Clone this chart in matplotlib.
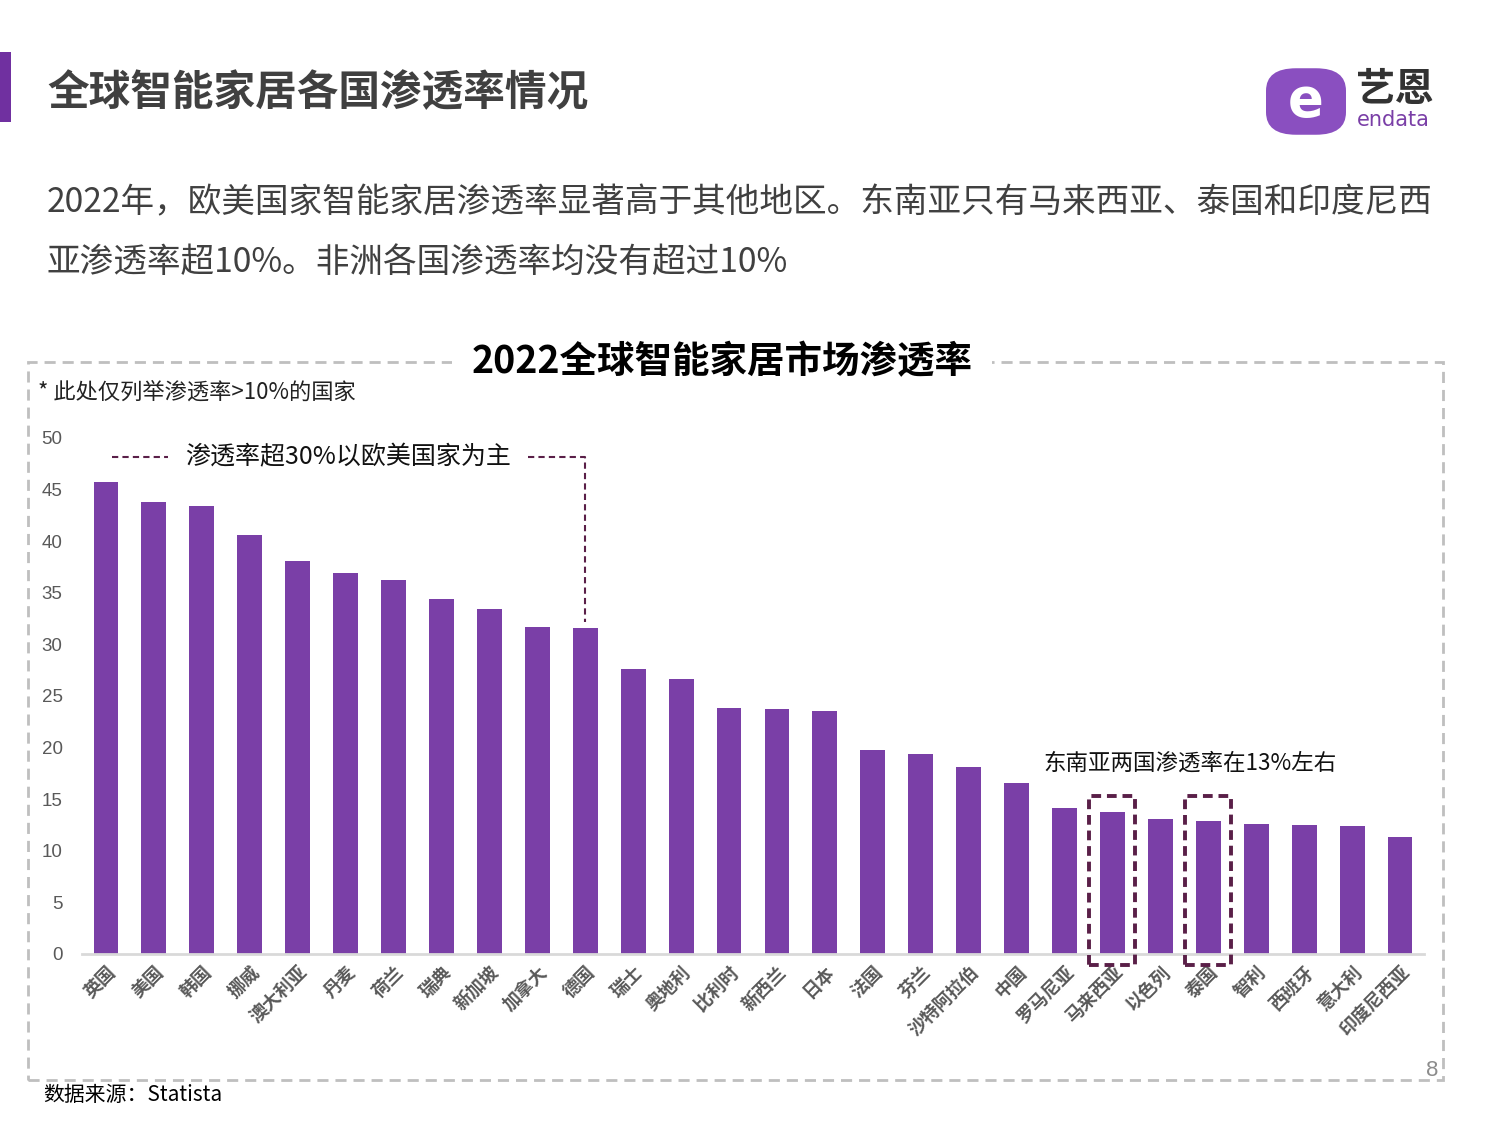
import matplotlib
matplotlib.use("Agg")
import matplotlib.pyplot as plt
from matplotlib.patches import Rectangle, FancyBboxPatch
from matplotlib.lines import Line2D

plt.rcParams['font.family'] = ['Noto Sans CJK SC', 'DejaVu Sans']

countries = ['英国', '美国', '韩国', '挪威', '澳大利亚', '丹麦', '荷兰', '瑞典', '新加坡', '加拿大',
             '德国', '瑞士', '奥地利', '比利时', '新西兰', '日本', '法国', '芬兰', '沙特阿拉伯', '中国',
             '罗马尼亚', '马来西亚', '以色列', '泰国', '智利', '西班牙', '意大利', '印度尼西亚']
rates = [45.7, 43.8, 43.4, 40.6, 38.1, 36.9, 36.2, 34.4, 33.4, 31.7,
         31.6, 27.6, 26.6, 23.8, 23.7, 23.5, 19.8, 19.4, 18.1, 16.6,
         14.1, 13.8, 13.1, 12.9, 12.6, 12.5, 12.4, 11.3]
yticks = [0, 5, 10, 15, 20, 25, 30, 35, 40, 45, 50]
highlight = ['马来西亚', '泰国']

W, H = 1500, 1125
fig = plt.figure(figsize=(15, 11.25), dpi=100)
fig.patch.set_facecolor('white')

def fx(x): return x / W
def fy(y): return 1 - y / H

BAR = '#7a3fa7'
DARK = '#404040'
MAROON = '#5a1f48'

# header
fig.add_artist(Rectangle((0, fy(122)), fx(11), (122 - 52) / H, transform=fig.transFigure,
                         color='#7030a0', lw=0))
fig.text(fx(47), fy(93), '全球智能家居各国渗透率情况', fontsize=30, fontweight='bold',
         color=DARK, va='center', ha='left')

# logo
logo = FancyBboxPatch((fx(1275), fy(128)), fx(62), (128 - 75) / H, transform=fig.transFigure,
                      boxstyle='round,pad=0.006,rounding_size=0.02', fc='#8a4fc0', ec='none')
fig.add_artist(logo)
fig.text(fx(1306), fy(101), 'e', fontsize=38, fontweight='bold', color='white',
         ha='center', va='center', family=['DejaVu Sans'])
fig.text(fx(1395), fy(89), '艺恩', fontsize=28, fontweight='bold', color='#333333',
         ha='center', va='center')
fig.text(fx(1393), fy(120), 'endata', fontsize=15, color='#7a3fa7',
         ha='center', va='center', family=['DejaVu Sans'])

# body text
fig.text(fx(47), fy(203), '2022年，欧美国家智能家居渗透率显著高于其他地区。东南亚只有马来西亚、泰国和印度尼西',
         fontsize=24.2, color=DARK, va='center', ha='left')
fig.text(fx(47), fy(262), '亚渗透率超10%。非洲各国渗透率均没有超过10%',
         fontsize=24.2, color=DARK, va='center', ha='left')

# dashed frame
fig.add_artist(Rectangle((fx(28), fy(1080)), fx(1443 - 28), (1080 - 362) / H,
                         transform=fig.transFigure, fill=False, ec='#bfbfbf', lw=2,
                         ls=(0, (4, 2.5))))
fig.text(fx(722), fy(362), '2022全球智能家居市场渗透率', fontsize=27, fontweight='bold',
         color='black', ha='center', va='center',
         bbox=dict(fc='white', ec='none', pad=14))

fig.text(fx(38), fy(392), '* 此处仅列举渗透率>10%的国家', fontsize=16, color='#222222',
         ha='left', va='center')

# chart
ax = fig.add_axes([fx(82), fy(954), fx(1424 - 82), (954 - 438) / H])
x = list(range(len(countries)))
ax.bar(x, rates, width=0.52, color=BAR, zorder=2)
ax.set_xlim(-0.5, len(countries) - 0.5)
ax.set_ylim(0, 50)
ax.set_yticks(yticks)
ax.set_yticklabels([str(t) for t in yticks], fontsize=13.5, color='#595959',
                   family=['Liberation Sans', 'DejaVu Sans'])
ax.set_xticks(x)
ax.set_xticklabels(countries, rotation=45, ha='right', va='top', rotation_mode='anchor',
                   fontsize=13, fontweight='bold', color='#595959')
ax.tick_params(axis='both', length=0)
ax.tick_params(axis='y', pad=14)
ax.tick_params(axis='x', pad=6)
for s in ['top', 'right', 'left']:
    ax.spines[s].set_visible(False)
ax.spines['bottom'].set_color('#d9d9d9')
ax.spines['bottom'].set_linewidth(2)
ax.patch.set_alpha(0)

# annotation 1
fig.text(fx(185), fy(457), '渗透率超30%以欧美国家为主', fontsize=18, color='#111111',
         ha='left', va='center')
fig.add_artist(Line2D([fx(112), fx(168)], [fy(457), fy(457)], transform=fig.transFigure,
                      color=MAROON, lw=1.5, ls=(0, (3, 2))))
i_de = countries.index('德国')
y_line = (954 - 457) / 10.32
ax.plot([-0.5 + (528 - 82) / 47.93, i_de, i_de],
        [y_line, y_line, rates[i_de] + 0.6],
        color=MAROON, lw=1.5, ls=(0, (3, 2)), clip_on=False, zorder=3)

# annotation 2
fig.text(fx(1043), fy(763), '东南亚两国渗透率在13%左右', fontsize=16.2, color='#111111',
         ha='left', va='center')
for name in highlight:
    i = countries.index(name)
    ax.add_patch(Rectangle((i - 0.48, -1.05), 0.96, 16.4, fill=False, ec=MAROON, lw=2.8,
                           ls=(0, (2.5, 1.5)), clip_on=False, zorder=3))

# footer
fig.text(fx(43), fy(1095), '数据来源：Statista', fontsize=15, color='black',
         ha='left', va='center')
fig.text(fx(1432), fy(1070), '8', fontsize=16, color='#8c8c8c', ha='center', va='center',
         family=['Liberation Sans', 'DejaVu Sans'])

fig.savefig('out.png', dpi=100, facecolor='white')
